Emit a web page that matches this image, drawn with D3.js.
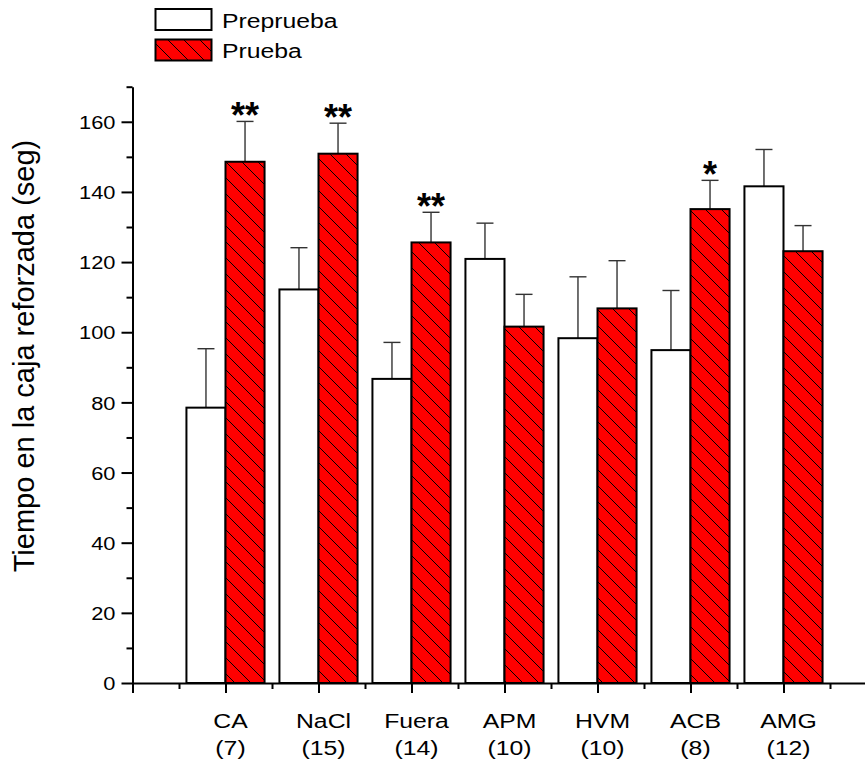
<!DOCTYPE html>
<html>
<head>
<meta charset="utf-8">
<script src="https://cdn.jsdelivr.net/npm/d3@7"></script>
<style>
  body { margin: 0; background: #fff; }
  svg { font-family: "Liberation Sans", Arial, sans-serif; }
</style>
</head>
<body>
<div id="chart"></div>
<script>
const categories = ['CA', 'NaCl', 'Fuera', 'APM', 'HVM', 'ACB', 'AMG'];
const counts = ['(7)', '(15)', '(14)', '(10)', '(10)', '(8)', '(12)'];
const preprueba = [78.5, 112.2, 86.7, 120.9, 98.3, 94.9, 141.6];
const preErr = [16.8, 11.9, 10.4, 10.2, 17.5, 17.0, 10.5];
const prueba = [148.6, 150.9, 125.6, 101.6, 106.8, 135.1, 123.1];
const pruebaErr = [11.5, 8.7, 8.6, 9.2, 13.6, 8.2, 7.3];
const signif = ['**', '**', '**', '', '', '*', ''];
const yMajor = [0, 20, 40, 60, 80, 100, 120, 140, 160];
const yMinor = [10, 30, 50, 70, 90, 110, 130, 150, 170];
const xMajor = [0, 1, 2, 3, 4, 5, 6, 7];
const xMinor = [0.5, 1.5, 2.5, 3.5, 4.5, 5.5, 6.5, 7.5];

let width = 865, height = 769;
let barW = 0.42;
// the original figure is a little wider than tall, text is stretched with it
let stretch = 'scale(1.18,1)';

let svg = d3.select('#chart').append('svg')
    .attr('width', width)
    .attr('height', height);

let x = d3.scaleLinear().domain([0, 8]).range([132.5, 876.5]);
let y = d3.scaleLinear().domain([0, 170]).range([683, 86.7]);

function label(px, py, txt, size, anchor) {
    return svg.append('text')
        .attr('transform', 'translate(' + px + ',' + py + ') ' + stretch)
        .attr('text-anchor', anchor || 'start')
        .attr('font-size', size)
        .text(txt);
}

// hatch pattern for the "Prueba" bars
let defs = svg.append('defs');
let pat = defs.append('pattern')
    .attr('id', 'hatch')
    .attr('patternUnits', 'userSpaceOnUse')
    .attr('width', 16)
    .attr('height', 16);
pat.append('rect').attr('width', 16).attr('height', 16).attr('fill', '#ff0000');
pat.append('path')
    .attr('d', 'M0,0 L16,16 M-4,12 L4,20 M12,-4 L20,4')
    .attr('stroke', '#000')
    .attr('stroke-width', 1);

// bars
let groups = svg.append('g');
categories.forEach(function (c, i) {
    let cx = i + 1;
    let bars = [
        { v: preprueba[i], e: preErr[i], x0: cx - barW, fill: '#fff' },
        { v: prueba[i], e: pruebaErr[i], x0: cx, fill: 'url(#hatch)' }
    ];
    bars.forEach(function (b) {
        let mid = x(b.x0 + barW / 2);
        groups.append('line')
            .attr('x1', mid).attr('x2', mid)
            .attr('y1', y(b.v)).attr('y2', y(b.v + b.e))
            .attr('stroke', '#333').attr('stroke-width', 1.4);
        groups.append('line')
            .attr('x1', mid - 8.5).attr('x2', mid + 8.5)
            .attr('y1', y(b.v + b.e)).attr('y2', y(b.v + b.e))
            .attr('stroke', '#333').attr('stroke-width', 1.4);
        groups.append('rect')
            .attr('x', x(b.x0))
            .attr('y', y(b.v))
            .attr('width', x(b.x0 + barW) - x(b.x0))
            .attr('height', y(0) - y(b.v))
            .attr('fill', b.fill)
            .attr('stroke', '#000')
            .attr('stroke-width', 2);
    });
    if (signif[i]) {
        svg.append('text')
            .attr('x', x(cx + barW / 2))
            .attr('y', y(prueba[i] + pruebaErr[i]) + 7)
            .attr('text-anchor', 'middle')
            .attr('font-size', 36)
            .attr('font-weight', 'bold')
            .text(signif[i]);
    }
});

// y axis
let yAxis = svg.append('g')
    .attr('transform', 'translate(' + x(0) + ',0)')
    .call(d3.axisLeft(y).tickValues(yMajor).tickSize(11).tickSizeOuter(0));
yAxis.select('.domain').attr('stroke-width', 2);
yAxis.selectAll('.tick line').attr('stroke-width', 2);
yAxis.selectAll('.tick text')
    .attr('x', null)
    .attr('dy', '0.36em')
    .attr('transform', 'translate(-17,0) ' + stretch)
    .attr('font-size', 18.5)
    .attr('font-family', 'Liberation Sans, Arial, sans-serif');

let yMin = svg.append('g')
    .attr('transform', 'translate(' + x(0) + ',0)')
    .call(d3.axisLeft(y).tickValues(yMinor).tickSize(6).tickFormat(''));
yMin.select('.domain').remove();
yMin.selectAll('.tick line').attr('stroke-width', 2);

// x axis
let xAxis = svg.append('g')
    .attr('transform', 'translate(0,' + y(0) + ')')
    .call(d3.axisBottom(x).tickValues(xMajor).tickSize(10).tickSizeOuter(0).tickFormat(''));
xAxis.select('.domain').attr('stroke-width', 2);
xAxis.selectAll('.tick line').attr('stroke-width', 2);

let xMin = svg.append('g')
    .attr('transform', 'translate(0,' + y(0) + ')')
    .call(d3.axisBottom(x).tickValues(xMinor).tickSize(6).tickFormat(''));
xMin.select('.domain').remove();
xMin.selectAll('.tick line').attr('stroke-width', 2);

// category labels
categories.forEach(function (c, i) {
    label(x(i + 1) + 5, 728, c, 21, 'middle');
    label(x(i + 1) + 5, 755, counts[i], 21, 'middle');
});

// y title
svg.append('text')
    .attr('transform', 'translate(34,356) rotate(-90)')
    .attr('text-anchor', 'middle')
    .attr('font-size', 29)
    .text('Tiempo en la caja reforzada (seg)');

// legend
let legend = [
    { label: 'Preprueba', fill: '#fff', y0: 9 },
    { label: 'Prueba', fill: 'url(#hatch)', y0: 39.5 }
];
legend.forEach(function (l) {
    svg.append('rect')
        .attr('x', 155.5).attr('y', l.y0)
        .attr('width', 56).attr('height', 21)
        .attr('fill', l.fill)
        .attr('stroke', '#000').attr('stroke-width', 2);
    label(222, l.y0 + 18.5, l.label, 21);
});
</script>
</body>
</html>
